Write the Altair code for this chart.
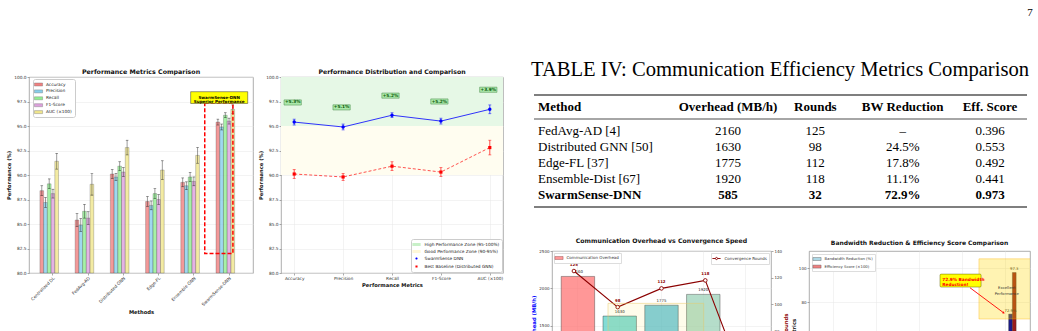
import altair as alt
import pandas as pd

# ------------------------------------------------------------------ data
methods1 = ["Centralized DL", "FedAvg-AD", "Distributed GNN", "Edge-FL", "Ensemble GNN", "SwarmSense-DNN"]
metrics = ["Accuracy", "Precision", "Recall", "F1-Score", "AUC (×100)"]
accuracy = [88.4, 85.4, 90.1, 87.3, 89.25, 95.4]
precision = [87.2, 84.9, 89.8, 86.9, 88.9, 94.9]
recall = [89.1, 86.3, 90.9, 88.1, 89.8, 96.1]
f1_score = [88.1, 85.6, 90.3, 87.5, 89.35, 95.5]
auc = [91.4, 89.05, 92.8, 90.5, 92.0, 96.7]
accuracy_err = [0.5, 0.65, 0.45, 0.5, 0.45, 0.3]
precision_err = [0.5, 0.65, 0.35, 0.45, 0.4, 0.3]
recall_err = [0.5, 0.7, 0.45, 0.5, 0.45, 0.25]
f1_err = [0.45, 0.65, 0.45, 0.5, 0.45, 0.3]
auc_err = [0.8, 1.1, 0.75, 0.95, 0.8, 0.45]

comm_methods = ["FedAvg-AD", "Distributed GNN", "Edge-FL", "Ensemble-Dist", "SwarmSense-DNN"]
table_refs = [" [4]", " [50]", " [37]", " [67]", ""]
overhead = [2160, 1630, 1775, 1920, 585]
rounds = [125, 98, 112, 118, 32]
bw_reduction = [None, 24.5, 17.8, 11.1, 72.9]
eff_score = [0.396, 0.553, 0.492, 0.441, 0.973]
table_headers = ["Method", "Overhead (MB/h)", "Rounds", "BW Reduction", "Eff. Score"]
table_title = "TABLE IV: Communication Efficiency Metrics Comparison"

FONT = "DejaVu Sans"
SERIF = "Liberation Serif"
RECT = "M-1.5,-0.55H1.5V0.55H-1.5Z"


def band_domain(n, pi, po):
    off = po + (1 - pi) / 2
    return [-off, n - pi + 2 * po - off]


def ox(field, dom):
    return alt.X(field, type="quantitative", scale=alt.Scale(domain=dom, nice=False, zero=False), axis=None)


def oy(field, dom):
    return alt.Y(field, type="quantitative", scale=alt.Scale(domain=dom, nice=False, zero=False), axis=None)


# ------------------------------------------------------------------ chart 1
vals = dict(zip(metrics, [accuracy, precision, recall, f1_score, auc]))
errs = dict(zip(metrics, [accuracy_err, precision_err, recall_err, f1_err, auc_err]))
rows = []
for i, m in enumerate(methods1):
    for k in metrics:
        v, e = vals[k][i], errs[k][i]
        rows.append(dict(method=m, metric=k, value=v, lo=v - e, hi=v + e))
df1 = pd.DataFrame(rows)

W1, H1 = 224, 196
PI1, PO1 = 0.26, 0.31
metric_colors = ["#f08080", "#87ceeb", "#90ee90", "#dda0dd", "#f0e68c"]
YDOM = [80, 100]
YTICKS = [80, 82.5, 85, 87.5, 90, 92.5, 95, 97.5, 100]
PT = "Performance (%)"

x1 = alt.X("method:N", sort=methods1, scale=alt.Scale(paddingInner=PI1, paddingOuter=PO1),
           axis=alt.Axis(title="Methods", labelAngle=-45, grid=False, titlePadding=3))
xo1 = alt.XOffset("metric:N", sort=metrics, scale=alt.Scale(domain=metrics, paddingInner=0))


def y1(field):
    return alt.Y(field, type="quantitative", title=PT,
                 scale=alt.Scale(domain=YDOM, nice=False, zero=False),
                 axis=alt.Axis(values=YTICKS, format=".1f", grid=True))


base1 = alt.Chart(df1)
bars1 = base1.mark_bar(stroke="#333333", strokeWidth=0.35, fillOpacity=0.8, strokeOpacity=0.7).encode(
    x=x1, xOffset=xo1, y=y1("value"), y2=alt.datum(80),
    color=alt.Color("metric:N", sort=metrics,
                    scale=alt.Scale(domain=metrics, range=metric_colors),
                    legend=alt.Legend(title=None, orient="none", legendX=4, legendY=2,
                                      fillColor="white", strokeColor="#cccccc", cornerRadius=2,
                                      padding=2.5, labelFontSize=4.3, symbolType=RECT, symbolSize=30,
                                      symbolStrokeWidth=0.4, symbolStrokeColor="#777777",
                                      rowPadding=0.9, labelOffset=4.5, labelColor="#222222")))
err1 = base1.mark_rule(color="#222222", strokeWidth=0.6, opacity=0.75).encode(
    x=x1, xOffset=xo1, y=y1("lo"), y2="hi:Q")
caplo1 = base1.mark_tick(orient="horizontal", size=2.6, thickness=0.6, color="#222222", opacity=0.75).encode(
    x=x1, xOffset=xo1, y=y1("lo"))
caphi1 = base1.mark_tick(orient="horizontal", size=2.6, thickness=0.6, color="#222222", opacity=0.75).encode(
    x=x1, xOffset=xo1, y=y1("hi"))

dom1 = band_domain(len(methods1), PI1, PO1)
hl_df = pd.DataFrame({"x0": [4.31], "x1": [5.11], "y0": [82.0], "y1": [97.35]})
lbl_df = pd.DataFrame({"x0": [3.91], "x1": [5.53], "y0": [97.3], "y1": [98.5],
                       "xc": [4.72], "yc": [97.9],
                       "t": ["SwarmSense-DNN\nSuperior Performance"]})

hl1 = alt.Chart(hl_df).mark_rect(fill="white", fillOpacity=0, stroke="red", strokeWidth=1.5,
                                  strokeDash=[4, 2]).encode(
    x=ox("x0", dom1), x2="x1:Q", y=oy("y0", YDOM), y2="y1:Q")
box1 = alt.Chart(lbl_df).mark_rect(fill="#ffff00", stroke="#333333", strokeWidth=0.5).encode(
    x=ox("x0", dom1), x2="x1:Q", y=oy("y0", YDOM), y2="y1:Q")
boxt1 = alt.Chart(lbl_df).mark_text(fontSize=4.1, fontWeight="bold", lineBreak="\n", lineHeight=4.6,
                                     color="black").encode(
    x=ox("xc", dom1), y=oy("yc", YDOM), text="t:N")

c1 = alt.layer(
    alt.layer(bars1, err1, caplo1, caphi1),
    alt.layer(hl1, box1, boxt1),
).resolve_scale(x="independent", y="independent").properties(
    width=W1, height=H1,
    title=alt.TitleParams("Performance Metrics Comparison", fontSize=6.3, offset=0, frame="group"))

# ------------------------------------------------------------------ chart 2
si, bi = methods1.index("SwarmSense-DNN"), methods1.index("Distributed GNN")
df2 = pd.DataFrame({
    "metric": metrics,
    "swarm": [vals[k][si] for k in metrics],
    "swarm_err": [errs[k][si] for k in metrics],
    "base": [vals[k][bi] for k in metrics],
    "base_err": [errs[k][bi] for k in metrics],
})
df2["s_lo"] = df2.swarm - df2.swarm_err
df2["s_hi"] = df2.swarm + df2.swarm_err
df2["b_lo"] = df2.base - df2.base_err
df2["b_hi"] = df2.base + df2.base_err
df2["ann_y"] = df2.swarm + 2
df2["ann"] = ["+%.1f%%" % (s - b) for s, b in zip(df2.swarm, df2.base)]

W2 = 222
x2 = alt.X("metric:N", sort=metrics, scale=alt.Scale(type="point", domain=metrics, padding=0.27),
           axis=alt.Axis(title="Performance Metrics", labelAngle=0, grid=True, titlePadding=2))
zones_lo = [95, 90]
zones_hi = [100, 95]
zone_colors = ["#e6f8e6", "#fffdf0"]
base2 = alt.Chart(df2)
zg = alt.Chart(pd.DataFrame({"lo": [zones_lo[0]], "hi": [zones_hi[0]]})).mark_rect(color=zone_colors[0]).encode(
    y=y1("lo"), y2="hi:Q")
zy = alt.Chart(pd.DataFrame({"lo": [zones_lo[1]], "hi": [zones_hi[1]]})).mark_rect(color=zone_colors[1]).encode(
    y=y1("lo"), y2="hi:Q")

blue_line = base2.mark_line(color="blue", strokeWidth=0.8).encode(x=x2, y=y1("swarm"))
blue_err = base2.mark_rule(color="blue", strokeWidth=0.7).encode(x=x2, y=y1("s_lo"), y2="s_hi:Q")
blue_c1 = base2.mark_tick(orient="horizontal", size=3, thickness=0.7, color="blue").encode(x=x2, y=y1("s_lo"))
blue_c2 = base2.mark_tick(orient="horizontal", size=3, thickness=0.7, color="blue").encode(x=x2, y=y1("s_hi"))
blue_pt = base2.mark_point(filled=True, shape="circle", size=12, color="blue", opacity=1).encode(x=x2, y=y1("swarm"))

red_line = base2.mark_line(color="red", strokeWidth=0.8, strokeDash=[3, 2], opacity=0.85).encode(x=x2, y=y1("base"))
red_err = base2.mark_rule(color="red", strokeWidth=0.7).encode(x=x2, y=y1("b_lo"), y2="b_hi:Q")
red_c1 = base2.mark_tick(orient="horizontal", size=3, thickness=0.7, color="red").encode(x=x2, y=y1("b_lo"))
red_c2 = base2.mark_tick(orient="horizontal", size=3, thickness=0.7, color="red").encode(x=x2, y=y1("b_hi"))
red_pt = base2.mark_point(filled=True, shape="square", size=10, color="red", opacity=1).encode(x=x2, y=y1("base"))

BOX = "M-1,-0.3H1V0.3H-1Z"
ann_box = base2.mark_point(shape=BOX, size=300, filled=True, fill="#9fe59f", fillOpacity=0.85,
                           stroke="#4a8a4a", strokeWidth=0.5, xOffset=-1.5, opacity=1).encode(
    x=x2, y=y1("ann_y"))
ann_txt = base2.mark_text(fontSize=4.3, color="#0a5a0a", fontWeight="bold", dx=-1.5).encode(
    x=x2, y=y1("ann_y"), text="ann:N")

lg2_labels = ["High Performance Zone (95-100%)", "Good Performance Zone (90-95%)",
              "SwarmSense DNN", "Best Baseline (Distributed GNN)"]
CIRC = "M-0.4,0A0.4,0.4 0 1,1 0.4,0A0.4,0.4 0 1,1 -0.4,0Z"
ERRC = "M0,-1V1M-0.45,-1H0.45M-0.45,1H0.45" + CIRC
ERRS = "M0,-1V1M-0.45,-1H0.45M-0.45,1H0.45M-0.38,-0.38H0.38V0.38H-0.38Z"
lg2 = alt.Legend(title=None, orient="bottom-right", offset=1, fillColor="white", strokeColor="#cccccc",
                 cornerRadius=2, padding=2, labelFontSize=4.3, symbolSize=30, rowPadding=1.0,
                 labelOffset=4.5, labelLimit=300, symbolStrokeWidth=0.7, labelColor="#222222")
leg2 = alt.Chart(pd.DataFrame({"z": lg2_labels})).mark_point(filled=True, opacity=1).encode(
    color=alt.Color("z:N", sort=lg2_labels,
                    scale=alt.Scale(domain=lg2_labels, range=["#c8f0c8", "#fff8d8", "blue", "red"]),
                    legend=lg2),
    shape=alt.Shape("z:N", sort=lg2_labels,
                    scale=alt.Scale(domain=lg2_labels, range=[RECT, RECT, ERRC, ERRS]),
                    legend=lg2),
).transform_filter("false")

c2 = alt.layer(zg, zy, red_line, red_err, red_c1, red_c2, red_pt,
               blue_line, blue_err, blue_c1, blue_c2, blue_pt, ann_box, ann_txt, leg2).properties(
    width=W2, height=H1,
    title=alt.TitleParams("Performance Distribution and Comparison", fontSize=6.2, offset=0, frame="group"))

# ------------------------------------------------------------------ table
TW, TH = 478, 140
row_names = [m + r for m, r in zip(comm_methods, table_refs)]
tbl = []
for i, m in enumerate(comm_methods):
    bw = "–" if bw_reduction[i] is None else "%.1f%%" % bw_reduction[i]
    cells = [row_names[i], str(overhead[i]), str(rounds[i]), bw, "%.3f" % eff_score[i]]
    for h, c in zip(table_headers, cells):
        tbl.append(dict(row=row_names[i], col=h, text=c, bold=(m == "SwarmSense-DNN")))
df_tbl = pd.DataFrame(tbl)

tx = alt.X("col:N", scale=alt.Scale(type="point", domain=table_headers, range=[88.7, 438], padding=0), axis=None)
ty = alt.Y("row:N", scale=alt.Scale(type="point", domain=row_names, range=[54, 118], padding=0), axis=None)
TFS = 13
tb = alt.Chart(df_tbl)
t_meth_n = tb.mark_text(font=SERIF, fontSize=TFS, align="left", dx=-102.7, color="black").encode(
    x=tx, y=ty, text="text:N").transform_filter("datum.col == 'Method' && !datum.bold")
t_meth_b = tb.mark_text(font=SERIF, fontSize=TFS, align="left", dx=-102.7, fontWeight="bold", color="black").encode(
    x=tx, y=ty, text="text:N").transform_filter("datum.col == 'Method' && datum.bold")
t_num_n = tb.mark_text(font=SERIF, fontSize=TFS, align="center", color="black").encode(
    x=tx, y=ty, text="text:N").transform_filter("datum.col != 'Method' && !datum.bold")
t_num_b = tb.mark_text(font=SERIF, fontSize=TFS, align="center", fontWeight="bold", color="black").encode(
    x=tx, y=ty, text="text:N").transform_filter("datum.col != 'Method' && datum.bold")
hd = alt.Chart(pd.DataFrame({"col": table_headers}))
h_meth = hd.mark_text(font=SERIF, fontSize=TFS, align="left", dx=-102.7, fontWeight="bold", color="black").encode(
    x=tx, y=alt.value(30), text="col:N").transform_filter("datum.col == 'Method'")
h_num = hd.mark_text(font=SERIF, fontSize=TFS, align="center", fontWeight="bold", color="black").encode(
    x=tx, y=alt.value(30), text="col:N").transform_filter("datum.col != 'Method'")
one = alt.Chart(pd.DataFrame({"t": [table_title]}))
r_top = one.mark_rule(color="black", strokeWidth=1.2).encode(x=alt.value(-18), x2=alt.value(475), y=alt.value(18))
r_mid = one.mark_rule(color="black", strokeWidth=0.7).encode(x=alt.value(-18), x2=alt.value(475), y=alt.value(42))
r_bot = one.mark_rule(color="black", strokeWidth=1.2).encode(x=alt.value(-18), x2=alt.value(475), y=alt.value(130))
t_title = one.mark_text(font=SERIF, fontSize=20.6, align="left", baseline="middle", color="black").encode(
    x=alt.value(-21), y=alt.value(-7), text="t:N")
page_no = alt.Chart(pd.DataFrame({"p": ["7"]})).mark_text(font=SERIF, fontSize=11, align="center",
                                                          baseline="top", color="black").encode(
    x=alt.value(478), y=alt.value(-70), text="p:N")

table = alt.layer(r_top, r_mid, r_bot, t_title, page_no, h_meth, h_num,
                  t_meth_n, t_meth_b, t_num_n, t_num_b).properties(
    width=TW, height=TH, view=alt.ViewBackground(stroke="transparent"))

# ------------------------------------------------------------------ chart 3
W3, H3 = 219, 187
PI3, PO3 = 0.2, 0.22
df3 = pd.DataFrame({"method": comm_methods, "overhead": overhead, "rounds": rounds})
bar3_colors = ["#ff6b6b", "#4ecdc4", "#45b7d1", "#96ceb4", "#ffeaa7"]
x3 = alt.X("method:N", sort=comm_methods, scale=alt.Scale(paddingInner=PI3, paddingOuter=PO3),
           axis=alt.Axis(title=None, labels=False, ticks=False, grid=True))
x3n = alt.X("method:N", sort=comm_methods, scale=alt.Scale(paddingInner=PI3, paddingOuter=PO3), axis=None)
yl3 = alt.Y("overhead:Q", scale=alt.Scale(domain=[0, 2500], nice=False),
            axis=alt.Axis(title="Communication Overhead (MB/h)", titleColor="blue", orient="left", format="d",
                          values=[0, 500, 1000, 1500, 2000, 2500], grid=True, labelFontSize=4, titleFontSize=5.3))
yr3 = alt.Y("rounds:Q", scale=alt.Scale(domain=[0, 140], nice=False),
            axis=alt.Axis(title="Convergence Rounds", titleColor="#8b0000", orient="right",
                          titleAngle=270, titleBaseline="top", format="d",
                          values=list(range(0, 141, 20)), grid=False, labelFontSize=4, titleFontSize=5.3))
b3 = alt.Chart(df3)
bars3 = b3.mark_bar(fillOpacity=0.7, stroke="#333333", strokeWidth=0.5, strokeOpacity=0.8).encode(
    x=x3, y=yl3, color=alt.Color("method:N", sort=comm_methods,
                                 scale=alt.Scale(domain=comm_methods, range=bar3_colors), legend=None))
bl3 = b3.mark_text(fontSize=3.9, color="#222222", baseline="bottom", dy=-2.5).encode(
    x=x3, y=yl3, text=alt.Text("overhead:Q", format="d"))
line3 = b3.mark_line(color="#8b0000", strokeWidth=1.1).encode(x=x3n, y=yr3)
pts3 = b3.mark_point(shape="circle", size=13, filled=True, fill="white", stroke="#8b0000",
                     strokeWidth=0.9, opacity=1).encode(x=x3n, y=yr3)
rl3 = b3.mark_text(fontSize=3.9, color="#8b0000", fontWeight="bold", baseline="bottom", dy=-4).encode(
    x=x3n, y=yr3, text=alt.Text("rounds:Q", format="d"))
dom3 = band_domain(len(comm_methods), PI3, PO3)
hb3 = alt.Chart(pd.DataFrame({"x0": [0.72], "x1": [3.01], "y0": [0], "y1": [1800]})).mark_rect(
    fill="#ffd700", fillOpacity=0.08, stroke="#e8c96a", strokeWidth=0.7, strokeOpacity=0.7).encode(
    x=ox("x0", dom3), x2="x1:Q", y=oy("y0", [0, 2500]), y2="y1:Q")
LINEC = "M-1.5,0H-0.4M0.4,0H1.5" + CIRC
leg3a = alt.Chart(pd.DataFrame({"a": ["Communication Overhead"]})).mark_point(filled=True, opacity=1).encode(
    color=alt.Color("a:N", scale=alt.Scale(domain=["Communication Overhead"], range=["#ff9797"]),
                    legend=alt.Legend(title=None, orient="top-left", offset=2, fillColor="white",
                                      strokeColor="#dddddd", padding=2, labelFontSize=4, symbolType=RECT,
                                      symbolSize=30, symbolStrokeColor="#884444", symbolStrokeWidth=0.4,
                                      labelOffset=4.5, labelColor="#333333"))).transform_filter("false")
leg3b = alt.Chart(pd.DataFrame({"b": ["Convergence Rounds"]})).mark_point(filled=False, opacity=1).encode(
    color=alt.Color("b:N", scale=alt.Scale(domain=["Convergence Rounds"], range=["#8b0000"]),
                    legend=alt.Legend(title=None, orient="top-right", offset=2, fillColor="white",
                                      strokeColor="#dddddd", padding=2, labelFontSize=4, symbolType=LINEC,
                                      symbolSize=30, symbolFillColor="white", symbolStrokeWidth=0.9,
                                      labelOffset=4.5, labelColor="#333333"))).transform_filter("false")
c3 = alt.layer(alt.layer(bars3, bl3), alt.layer(line3, pts3, rl3), hb3, leg3a, leg3b).resolve_scale(
    x="independent", y="independent", color="independent").properties(
    width=W3, height=H3,
    title=alt.TitleParams("Communication Overhead vs Convergence Speed", fontSize=6.2, offset=4.7, frame="group"))

# ------------------------------------------------------------------ chart 4
W4, H4 = 221, 187
PI4, PO4 = 0.3, 0.234
series = ["Bandwidth Reduction (%)", "Efficiency Score (×100)"]
r4 = []
for i, m in enumerate(comm_methods):
    r4.append(dict(method=m, series=series[0], value=bw_reduction[i] or 0.0,
                   label="%.1f%%" % (bw_reduction[i] or 0.0)))
    r4.append(dict(method=m, series=series[1], value=eff_score[i] * 100,
                   label="%.1f" % (eff_score[i] * 100)))
df4 = pd.DataFrame(r4)
Y4DOM = [0, 110]
x4 = alt.X("method:N", sort=comm_methods, scale=alt.Scale(paddingInner=PI4, paddingOuter=PO4),
           axis=alt.Axis(title=None, labels=False, ticks=False, grid=True))
xo4 = alt.XOffset("series:N", sort=series, scale=alt.Scale(domain=series, paddingInner=0))


def y4(field):
    return alt.Y(field, type="quantitative", title="Efficiency Metrics",
                 scale=alt.Scale(domain=Y4DOM, nice=False),
                 axis=alt.Axis(values=[0, 20, 40, 60, 80, 100], grid=True, labelFontSize=4, titleFontSize=5.3))


b4 = alt.Chart(df4)
bars4 = b4.mark_bar(fillOpacity=0.8, stroke="#333333", strokeWidth=0.4).encode(
    x=x4, xOffset=xo4, y=y4("value"),
    color=alt.Color("series:N", sort=series, scale=alt.Scale(domain=series, range=["#add8e6", "#f08080"]),
                    legend=alt.Legend(title=None, orient="top-left", offset=3, fillColor="white",
                                      strokeColor="#dddddd", padding=2, labelFontSize=3.8, symbolType=RECT,
                                      symbolSize=30, symbolStrokeColor="#555555", symbolStrokeWidth=0.4,
                                      rowPadding=1.6, labelOffset=4.5, labelColor="#333333"))
).transform_filter("datum.method != 'SwarmSense-DNN'")
sw_bw = b4.mark_bar(fill="#1a1a8c", stroke="#333333", strokeWidth=0.4).encode(
    x=x4, xOffset=xo4, y=y4("value")).transform_filter(
    "datum.method == 'SwarmSense-DNN' && datum.series == '%s'" % series[0])
sw_ef = b4.mark_bar(fill="#9b1b1b", stroke="#333333", strokeWidth=0.4).encode(
    x=x4, xOffset=xo4, y=y4("value")).transform_filter(
    "datum.method == 'SwarmSense-DNN' && datum.series == '%s'" % series[1])
lb4 = b4.mark_text(fontSize=3.8, color="#222222", baseline="bottom", dy=-1.5).encode(
    x=x4, xOffset=xo4, y=y4("value"), text="label:N")

dom4 = band_domain(len(comm_methods), PI4, PO4)
exc = alt.Chart(pd.DataFrame({"x0": [3.39], "x1": [4.62], "y0": [70.0], "y1": [105.4],
                              "xc": [4.04], "yc": [88.2], "t": ["Excellent\nPerformance"]}))
exc_box = exc.mark_rect(fill="#ffd700", fillOpacity=0.3, stroke="#ffb000", strokeWidth=0.6,
                        strokeOpacity=0.6, clip=True).encode(
    x=ox("x0", dom4), x2="x1:Q", y=oy("y0", Y4DOM), y2="y1:Q")
exc_txt = exc.mark_text(fontSize=3.8, color="#333333", lineBreak="\n", lineHeight=5.5).encode(
    x=ox("xc", dom4), y=oy("yc", Y4DOM), text="t:N")
ann = alt.Chart(pd.DataFrame({"x0": [2.48], "x1": [3.44], "y0": [88.8], "y1": [96.4],
                              "xt": [2.53], "yt": [92.7], "t": ["72.9% Bandwidth\nReduction!"],
                              "ax": [3.18], "ay": [88.4], "hx": [3.97], "hy": [73.6]}))
ann_box4 = ann.mark_rect(fill="#ffff00", stroke="#666600", strokeWidth=0.5, cornerRadius=1).encode(
    x=ox("x0", dom4), x2="x1:Q", y=oy("y0", Y4DOM), y2="y1:Q")
ann_txt4 = ann.mark_text(fontSize=4.3, fontWeight="bold", color="red", align="left", lineBreak="\n",
                         lineHeight=5).encode(x=ox("xt", dom4), y=oy("yt", Y4DOM), text="t:N")
arrow = ann.mark_rule(color="red", strokeWidth=0.9).encode(
    x=ox("ax", dom4), y=oy("ay", Y4DOM), x2="hx:Q", y2="hy:Q")
head = ann.mark_point(shape="triangle-up", angle=126, size=7, filled=True, color="red", opacity=1).encode(
    x=ox("hx", dom4), y=oy("hy", Y4DOM))

c4 = alt.layer(alt.layer(bars4, sw_bw, sw_ef, lb4),
               alt.layer(exc_box, exc_txt, ann_box4, ann_txt4, arrow, head)).resolve_scale(
    x="independent", y="independent").properties(
    width=W4, height=H4,
    title=alt.TitleParams("Bandwidth Reduction & Efficiency Score Comparison", fontSize=6.0, offset=4.7,
                          frame="group"))

# ------------------------------------------------------------------ page layout
IND = dict(color="independent", shape="independent")
left_pair = alt.hconcat(c1, c2, spacing=28, bounds="flush").resolve_scale(**IND).resolve_legend(**IND)
bottom_pair = alt.hconcat(c3, c4, spacing=38, bounds="flush").resolve_scale(**IND).resolve_legend(**IND)
right_col = alt.vconcat(table, bottom_pair, spacing=19).resolve_scale(**IND).resolve_legend(**IND)
chart = alt.hconcat(left_pair, right_col, spacing=26).resolve_scale(**IND).resolve_legend(**IND).properties(
    padding={"left": 6, "top": 6, "right": 0, "bottom": 0}
).configure(font=FONT).configure_view(stroke="#999999", strokeWidth=0.8).configure_axis(
    labelFont=FONT, titleFont=FONT, labelFontSize=4.3, titleFontSize=5.2, titleFontWeight="bold",
    labelColor="#333333", titleColor="#111111", tickColor="#555555", tickSize=2, tickWidth=0.5,
    domain=False, gridColor="#e6e6e6", gridWidth=0.5, labelPadding=1, titlePadding=2
).configure_title(font=FONT, fontWeight="bold", color="#111111").configure_legend(labelFont=FONT)

chart.save("out.html", embed_options={"renderer": "svg", "actions": False})
